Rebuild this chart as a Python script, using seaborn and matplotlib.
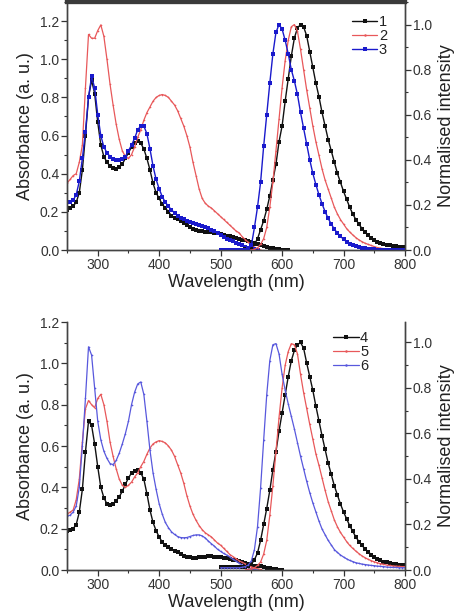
import numpy as np
import pandas as pd
import matplotlib
matplotlib.use("Agg")
import matplotlib.pyplot as plt
from matplotlib.lines import Line2D
from matplotlib.ticker import MultipleLocator
import seaborn as sns

# ---------------- data ----------------
step = 5
# panel 1: absorbance
abs1_start = 250
abs1 = [0.21,0.22,0.23,0.25,0.30,0.42,0.60,0.80,0.89,0.82,
        0.67,0.55,0.49,0.46,0.44,0.43,0.425,0.435,0.45,0.48,
        0.51,0.54,0.56,0.57,0.56,0.53,0.48,0.42,0.35,0.30,
        0.27,0.24,0.22,0.20,0.18,0.17,0.16,0.15,0.14,0.13,
        0.12,0.11,0.105,0.10,0.097,0.095,0.093,0.092,0.09,0.088,
        0.085,0.08,0.075,0.072,0.068,0.064,0.06,0.055,0.05,0.046,
        0.042,0.037,0.032,0.027,0.022,0.018,0.013,0.009,0.005,0.003,
        0.001,0.0,0.0]
abs2_start = 250
abs2 = [0.35,0.37,0.39,0.40,0.46,0.55,0.85,1.13,1.11,1.11,
        1.15,1.18,1.12,1.00,0.87,0.76,0.66,0.58,0.52,0.49,
        0.48,0.50,0.54,0.59,0.63,0.68,0.72,0.75,0.78,0.80,
        0.81,0.815,0.81,0.80,0.78,0.76,0.73,0.69,0.65,0.60,
        0.54,0.46,0.39,0.32,0.27,0.245,0.23,0.22,0.205,0.19,
        0.175,0.16,0.145,0.13,0.115,0.10,0.09,0.07,0.055,0.04,
        0.025,0.015,0.005,0.0]
abs3_start = 250
abs3 = [0.25,0.25,0.26,0.29,0.36,0.48,0.62,0.80,0.91,0.85,
        0.71,0.60,0.54,0.51,0.49,0.475,0.47,0.47,0.475,0.49,
        0.52,0.55,0.585,0.63,0.65,0.65,0.61,0.53,0.44,0.37,
        0.32,0.28,0.25,0.23,0.21,0.195,0.18,0.17,0.16,0.152,
        0.146,0.14,0.136,0.132,0.125,0.12,0.114,0.105,0.097,0.088,
        0.08,0.07,0.06,0.052,0.045,0.038,0.03,0.024,0.018,0.012,
        0.007,0.003,0.0]
# panel 1: emission
em1_start = 500
em1 = [0,0,0,0,0,0,0,0.002,0.003,0.005,
       0.01,0.025,0.05,0.09,0.13,0.18,0.24,0.31,0.38,0.48,
       0.55,0.66,0.76,0.86,0.94,0.985,1.0,0.99,0.95,0.88,
       0.81,0.74,0.68,0.61,0.55,0.49,0.44,0.39,0.34,0.30,
       0.26,0.225,0.19,0.16,0.135,0.115,0.095,0.08,0.065,0.053,
       0.043,0.035,0.03,0.025,0.022,0.02,0.018,0.016,0.015,0.015,
       0.015]
em2_start = 540
em2 = [0,0,0,0.003,0.01,0.025,0.05,0.10,0.19,0.30,
       0.44,0.58,0.72,0.84,0.93,0.99,1.0,0.97,0.89,0.80,
       0.71,0.63,0.55,0.48,0.42,0.36,0.31,0.27,0.23,0.19,
       0.16,0.135,0.115,0.095,0.08,0.067,0.055,0.045,0.037,0.03,
       0.025,0.02,0.015,0.011,0.008,0.006,0.005,0.004,0.003,0.002,
       0.002,0.001,0.001]
em3_start = 500
em3 = [0,0,0,0,0,0,0,0,0,0.005,
       0.02,0.10,0.19,0.30,0.46,0.60,0.74,0.87,0.965,1.0,
       0.98,0.93,0.87,0.80,0.75,0.69,0.61,0.54,0.47,0.40,
       0.34,0.29,0.245,0.205,0.17,0.14,0.115,0.093,0.075,0.06,
       0.048,0.036,0.028,0.021,0.016,0.012,0.009,0.007,0.005,0.004,
       0.003,0.002,0.001,0,0,0,0,0,0,0,
       0]
# panel 2: absorbance
abs4_start = 250
abs4 = [0.19,0.195,0.20,0.22,0.28,0.39,0.57,0.72,0.70,0.61,
        0.50,0.40,0.35,0.32,0.315,0.32,0.335,0.355,0.38,0.415,
        0.445,0.47,0.48,0.485,0.47,0.44,0.37,0.29,0.23,0.19,
        0.16,0.135,0.12,0.11,0.10,0.093,0.085,0.077,0.07,0.065,
        0.062,0.06,0.06,0.061,0.063,0.065,0.066,0.066,0.065,0.064,
        0.062,0.06,0.057,0.053,0.05,0.046,0.042,0.037,0.032,0.027,
        0.023,0.021,0.02,0.018,0.015,0.012,0.01,0.007,0.004,0.002,
        0.0]
abs5_start = 250
abs5 = [0.27,0.28,0.29,0.34,0.44,0.62,0.78,0.82,0.80,0.785,
        0.83,0.85,0.80,0.72,0.62,0.55,0.49,0.44,0.41,0.40,
        0.41,0.425,0.45,0.47,0.50,0.525,0.56,0.59,0.61,0.62,
        0.626,0.622,0.615,0.60,0.58,0.55,0.51,0.47,0.42,0.36,
        0.31,0.27,0.24,0.215,0.195,0.18,0.17,0.16,0.145,0.13,
        0.12,0.105,0.09,0.075,0.065,0.055,0.045,0.037,0.03,0.022,
        0.015,0.01,0.006,0.003]
abs6_start = 250
abs6 = [0.26,0.265,0.28,0.31,0.40,0.60,0.83,1.08,1.04,0.88,
        0.72,0.63,0.575,0.54,0.515,0.51,0.53,0.565,0.61,0.66,
        0.72,0.80,0.86,0.90,0.91,0.85,0.72,0.58,0.47,0.39,
        0.32,0.27,0.23,0.205,0.185,0.172,0.162,0.157,0.156,0.157,
        0.162,0.167,0.17,0.17,0.165,0.155,0.14,0.127,0.115,0.10,
        0.09,0.08,0.072,0.063,0.052,0.043,0.033,0.024,0.018,0.011,
        0.005,0.002,0.0]
# panel 2: emission
em4_start = 500
em4 = [0.015,0.015,0.015,0.015,0.015,0.015,0.015,0.015,0.015,0.018,
       0.025,0.045,0.075,0.13,0.20,0.27,0.35,0.44,0.52,0.61,
       0.69,0.77,0.85,0.92,0.965,0.99,1.0,0.975,0.91,0.85,
       0.79,0.72,0.655,0.59,0.53,0.47,0.42,0.37,0.33,0.29,
       0.255,0.225,0.195,0.17,0.145,0.125,0.108,0.093,0.08,0.068,
       0.058,0.05,0.043,0.037,0.033,0.03,0.028,0.026,0.024,0.023,
       0.022]
em5_start = 540
em5 = [0.0,0.003,0.005,0.01,0.02,0.035,0.07,0.13,0.24,0.37,
       0.52,0.67,0.80,0.90,0.96,0.995,0.99,0.95,0.86,0.78,
       0.71,0.64,0.575,0.51,0.46,0.405,0.35,0.30,0.26,0.22,
       0.19,0.165,0.145,0.125,0.108,0.095,0.083,0.072,0.062,0.054,
       0.047,0.041,0.036,0.032,0.028,0.025,0.022,0.02,0.018,0.017,
       0.016,0.015,0.015]
em6_start = 500
em6 = [0.01,0.01,0.01,0.01,0.01,0.01,0.01,0.012,0.015,0.022,
       0.04,0.09,0.19,0.36,0.57,0.77,0.92,0.99,0.995,0.95,
       0.86,0.79,0.73,0.675,0.62,0.56,0.50,0.445,0.39,0.34,
       0.295,0.255,0.215,0.18,0.155,0.13,0.11,0.09,0.077,0.066,
       0.057,0.049,0.042,0.037,0.032,0.029,0.026,0.024,0.022,0.02,
       0.019,0.017,0.016,0.015,0.013,0.012,0.011,0.011,0.01,0.01,
       0.01]

labels_top = ["1", "2", "3"]
labels_bot = ["4", "5", "6"]
x_ticks = [300, 400, 500, 600, 700, 800]
yl_ticks = [0.0, 0.2, 0.4, 0.6, 0.8, 1.0, 1.2]
yr_ticks = [0.0, 0.2, 0.4, 0.6, 0.8, 1.0]

def wl(start, vals):
    return np.arange(start, start + step * len(vals), step)[:len(vals)]

# ---------------- style ----------------
sns.set_theme(style="ticks")
plt.rcParams['font.family'] = ['Liberation Sans', 'DejaVu Sans']
plt.rcParams['axes.edgecolor'] = '#333333'
plt.rcParams['xtick.color'] = '#333333'
plt.rcParams['ytick.color'] = '#333333'
plt.rcParams['text.color'] = '#222222'
plt.rcParams['axes.labelcolor'] = '#222222'

BLACK = '#111111'
RED = '#e8585a'
BLUE1 = '#1a1acc'
BLUE2 = '#5858dd'

fig = plt.figure(figsize=(4.74, 6.15), dpi=100)
ax_top = fig.add_axes([67/474, 1-250/615, 338/474, 248/615])
ax_bot = fig.add_axes([67/474, 1-570/615, 338/474, 248/615])

styles_top = [
    dict(color=BLACK, marker='s', markersize=2.6, markeredgewidth=0, linewidth=1.0),
    dict(color=RED, marker='o', markersize=1.2, markeredgewidth=0, linewidth=0.9),
    dict(color=BLUE1, marker='s', markersize=2.6, markeredgewidth=0, linewidth=1.0),
]
styles_bot = [
    dict(color=BLACK, marker='s', markersize=2.6, markeredgewidth=0, linewidth=1.0),
    dict(color=RED, marker='o', markersize=1.2, markeredgewidth=0, linewidth=0.9),
    dict(color=BLUE2, marker='o', markersize=1.2, markeredgewidth=0, linewidth=0.9),
]

def panel(ax, abs_sets, em_sets, styles, labels, ytop_left, ytop_right, legend_anchor, top_spine):
    ax2 = ax.twinx()
    for (st, vals), sty in zip(abs_sets, styles):
        df = pd.DataFrame({'wl': wl(st, vals), 'A': vals})
        sns.lineplot(data=df, x='wl', y='A', ax=ax, estimator=None, legend=False, **sty)
    for (st, vals), sty in zip(em_sets, styles):
        df = pd.DataFrame({'wl': wl(st, vals), 'I': vals})
        sns.lineplot(data=df, x='wl', y='I', ax=ax2, estimator=None, legend=False, **sty)
    ax.set_xlim(250, 800)
    ax.set_ylim(0, ytop_left)
    ax2.set_ylim(0, ytop_right)
    ax.set_xticks(x_ticks)
    ax.set_yticks(yl_ticks)
    ax2.set_yticks(yr_ticks)
    ax.set_xticklabels([str(t) for t in x_ticks])
    ax.set_yticklabels([f"{t:.1f}" for t in yl_ticks])
    ax2.set_yticklabels([f"{t:.1f}" for t in yr_ticks])
    ax.xaxis.set_minor_locator(MultipleLocator(50))
    ax.yaxis.set_minor_locator(MultipleLocator(0.1))
    ax2.yaxis.set_minor_locator(MultipleLocator(0.1))
    for a in (ax, ax2):
        a.tick_params(which='major', direction='out', length=4, width=0.9, labelsize=10, pad=1.5)
        a.tick_params(which='minor', direction='out', length=2.5, width=0.8)
        for s in a.spines.values():
            s.set_linewidth(1.0)
            s.set_color('#444444')
    if top_spine:
        for a in (ax, ax2):
            a.spines['top'].set_linewidth(3.0)
            a.spines['top'].set_color('#3a3a3a')
    else:
        ax.spines['top'].set_visible(False)
        ax2.spines['top'].set_visible(False)
    ax.set_xlabel("Wavelength (nm)", fontsize=13, labelpad=2)
    ax.set_ylabel("Absorbance (a. u.)", fontsize=13, labelpad=4)
    ax2.set_ylabel("Normalised intensity", fontsize=13, labelpad=4)
    handles = [Line2D([], [], **{**sty, 'markersize': sty['markersize'] + 0.6}) for sty in styles]
    ax2.legend(handles, labels, loc='upper left', bbox_to_anchor=legend_anchor,
               frameon=False, fontsize=10.5, handlelength=1.75, handletextpad=0.1,
               labelspacing=0.0, borderpad=0, borderaxespad=0, numpoints=1)
    return ax2

panel(ax_top,
      [(abs1_start, abs1), (abs2_start, abs2), (abs3_start, abs3)],
      [(em1_start, em1), (em2_start, em2), (em3_start, em3)],
      styles_top, labels_top, 1.30, 1.10, (0.843, 0.946), True)
panel(ax_bot,
      [(abs4_start, abs4), (abs5_start, abs5), (abs6_start, abs6)],
      [(em4_start, em4), (em5_start, em5), (em6_start, em6)],
      styles_bot, labels_bot, 1.2, 1.09, (0.787, 0.963), False)

fig.savefig("out.png", dpi=100)
